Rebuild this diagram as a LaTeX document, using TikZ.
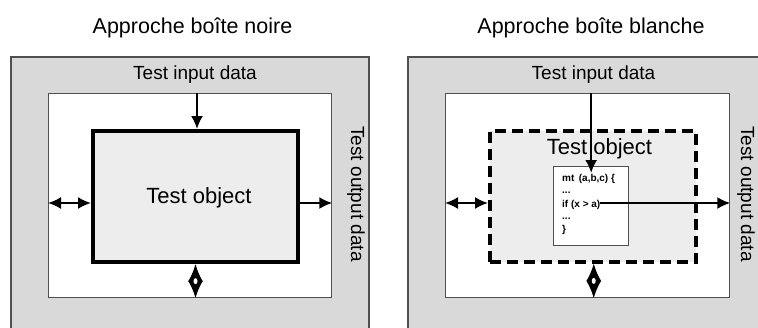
\documentclass[tikz,border=0pt]{standalone}
\usepackage{fontspec}
\setmainfont{Liberation Sans}
\usetikzlibrary{arrows.meta,calc}
\definecolor{panelgray}{RGB}{217,217,217}
\definecolor{objgray}{RGB}{237,237,237}
\definecolor{edgegray}{RGB}{80,80,80}
\tikzset{
  whitebox/.style={draw=edgegray, line width=1.3pt, fill=white, inner sep=0pt, anchor=north west},
  objbox/.style={draw=black, line width=4pt, fill=objgray, inner sep=0pt, anchor=north west},
  dashbox/.style={draw=black, line width=3.5pt, dash pattern=on 11pt off 6pt, fill=objgray, inner sep=0pt, anchor=north west},
  codebox/.style={draw=edgegray, line width=1.3pt, fill=white, inner sep=0pt, anchor=north west},
  lbl/.style={inner sep=0pt, font=\fontsize{19}{21}\selectfont},
  objlbl/.style={inner sep=0pt, font=\fontsize{22}{24}\selectfont},
  ttl/.style={inner sep=0pt, font=\fontsize{21.5}{24}\selectfont},
  codetxt/.style={inner sep=0pt, anchor=base west, font=\fontsize{10}{11}\selectfont\bfseries},
  conn/.style={line width=2pt, -{Latex[length=13pt,width=12pt]}},
  dconn/.style={line width=2pt, {Latex[length=13pt,width=12pt]}-{Latex[length=13pt,width=12pt]}},
  diamondconn/.style={line width=2pt, {Latex[length=17.5pt,width=15pt]}-{Latex[length=17.5pt,width=15pt]}},
}
\begin{document}
\begin{tikzpicture}[x=1pt,y=-1pt]
\useasboundingbox (0,0) rectangle (758,327);
\clip (0,0) rectangle (758,327);

% titles
\node[ttl, anchor=base] (t1) at (192.5,33) {Approche boîte noire};
\node[ttl, anchor=base] (t2) at (591,33) {Approche boîte blanche};

% ---------- left panel ----------
\fill[panelgray] (11,57) rectangle (369,340);
\draw[edgegray, line width=1.3pt] (11,340) -- (11,57) -- (369,57) -- (369,340);
\node[lbl, anchor=base] (inL) at (195,79) {Test input data};
\node[whitebox, minimum width=283pt, minimum height=204pt] (whiteL) at (48,93) {};
\node[objbox, minimum width=205pt, minimum height=131pt] (objL) at (91,129) {};
\node[objlbl, anchor=base] (objLt) at (199,203) {Test object};
\node[lbl, rotate=-90] (outL) at (356,194) {Test output data};
\coordinate (midL) at (0,203);
\draw[conn] ([xshift=1.5pt]objL.north |- whiteL.north) -- ([xshift=1.5pt]objL.north);
\draw[dconn] (whiteL.west |- midL) -- (objL.west |- midL);
\draw[conn] (objL.east |- midL) -- (whiteL.east |- midL);
\draw[diamondconn] (objL.south) -- (objL.south |- whiteL.south);
\fill[white] ($(objL.south)!0.5!(objL.south |- whiteL.south)$) ellipse (2pt and 3pt);

% ---------- right panel ----------
\fill[panelgray] (408,57) rectangle (770,340);
\draw[edgegray, line width=1.3pt] (408,340) -- (408,57) -- (770,57);
\node[lbl, anchor=base] (inR) at (593.5,79) {Test input data};
\node[whitebox, minimum width=284pt, minimum height=204pt] (whiteR) at (445,93) {};
\node[dashbox, minimum width=206pt, minimum height=131pt] (objR) at (488,129) {};
\node[objlbl, anchor=base] (objRt) at (599.5,154) {Test object};
\node[lbl, rotate=-90] (outR) at (746,194) {Test output data};
\node[codebox, minimum width=75pt, minimum height=79pt] (code) at (553,166) {};
\node[codetxt] (c1) at (562,181) {mt\, (a,b,c) \{};
\node[codetxt] (c2) at (562,193) {...};
\node[codetxt] (c3) at (562,207) {if (x > a)};
\node[codetxt] (c4) at (562,219) {...};
\node[codetxt] (c5) at (562,232) {\}};
\coordinate (midR) at (0,203);
\draw[conn] (code.north |- whiteR.north) -- ([yshift=-7pt]code.north);
\draw[dconn] (whiteR.west |- midR) -- (objR.west |- midR);
\draw[conn] (c3.east |- midR) -- (whiteR.east |- midR);
\draw[diamondconn] ([xshift=1pt]objR.south) -- ([xshift=1pt]objR.south |- whiteR.south);
\fill[white] ($([xshift=1pt]objR.south)!0.5!([xshift=1pt]objR.south |- whiteR.south)$) ellipse (2pt and 3pt);
\end{tikzpicture}
\end{document}
